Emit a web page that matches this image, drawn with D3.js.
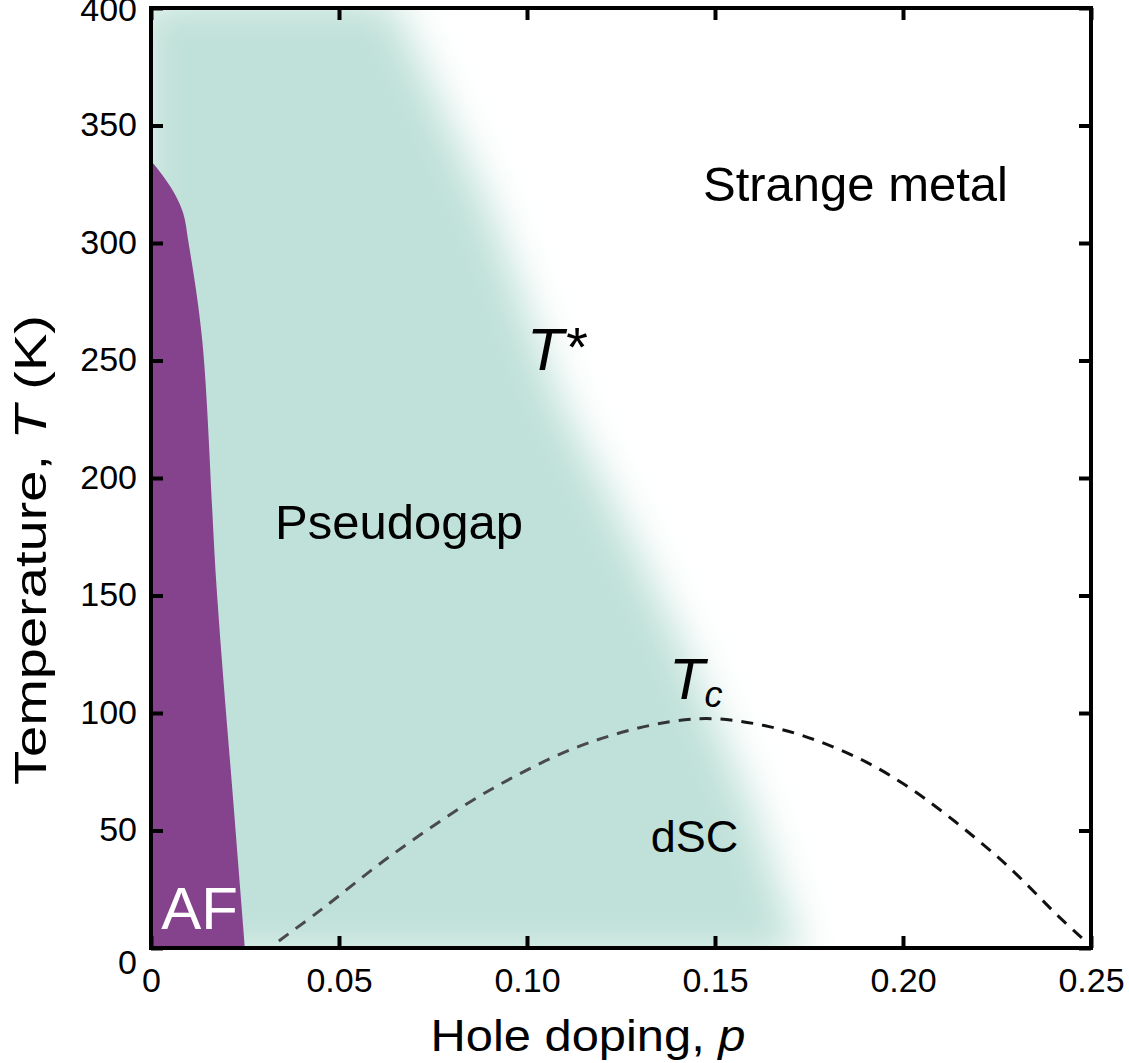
<!DOCTYPE html>
<html>
<head>
<meta charset="utf-8">
<script src="https://cdn.jsdelivr.net/npm/d3@7"></script>
<style>
  body { margin: 0; background: #fff; }
  text { font-family: "Liberation Sans", Arial, sans-serif; fill: #000; }
</style>
</head>
<body>
<div id="chart"></div>
<script>
// phase diagram data
var xTicks = [0, 0.05, 0.10, 0.15, 0.20, 0.25];
var xTickLabels = ["0", "0.05", "0.10", "0.15", "0.20", "0.25"];
var yTicks = [0, 50, 100, 150, 200, 250, 300, 350, 400];

// antiferromagnet boundary
var afP = [0, 0.0025, 0.0059, 0.0085, 0.0100, 0.0136, 0.0175, 0.0220, 0.0250];
var afT = [335, 330, 322, 313, 300, 259, 152, 60, 0];

// pseudogap T* crossover (middle of the fade)
var tStarP = [0.0635, 0.065, 0.090, 0.109, 0.126, 0.142, 0.160, 0.1726, 0.1735];
var tStarT = [404, 400, 315, 233, 180, 127, 60, 0, -4];

// superconducting dome Tc
var domeP = [0.034, 0.045, 0.0644, 0.091, 0.1176, 0.145, 0.165, 0.183, 0.200, 0.225, 0.242, 0.2485];
var domeT = [3, 16, 40, 68, 88, 97.5, 94, 84.5, 70, 39, 12.5, 3];

var svgWidth = 1129;
var svgHeight = 1063;
var margin = {top: 8, right: 38, bottom: 115, left: 151};
var width = svgWidth - margin.left - margin.right;   // 940
var height = svgHeight - margin.top - margin.bottom; // 940

var svg = d3.select("#chart").append("svg")
    .attr("width", svgWidth).attr("height", svgHeight);

var defs = svg.append("defs");
defs.append("clipPath").attr("id", "plotClip")
    .append("rect").attr("width", width).attr("height", height);
var blur = defs.append("filter").attr("id", "soft")
    .attr("x", "-30%").attr("y", "-30%").attr("width", "160%").attr("height", "160%");
blur.append("feGaussianBlur").attr("stdDeviation", 21);

var grad = defs.append("linearGradient").attr("id", "domeStroke")
    .attr("gradientUnits", "userSpaceOnUse");

var chart = svg.append("g").attr("transform", `translate(${margin.left},${margin.top})`);

var xScale = d3.scaleLinear().domain([0, 0.25]).range([0, width]);
var yScale = d3.scaleLinear().domain([0, 400]).range([height, 0]);

grad.attr("x1", xScale(0.12)).attr("x2", xScale(0.16)).attr("y1", 0).attr("y2", 0);
grad.append("stop").attr("offset", 0).attr("stop-color", "#4a4a4a");
grad.append("stop").attr("offset", 1).attr("stop-color", "#111");

var line = d3.line().x(function (d) { return xScale(d[0]); }).y(function (d) { return yScale(d[1]); });

var plot = chart.append("g").attr("clip-path", "url(#plotClip)");

// pseudogap region: polygon bounded by T*, blurred
var pgPts = [[-0.003, -4], [-0.003, 404]];
tStarP.forEach(function (p, i) { pgPts.push([p, tStarT[i]]); });
plot.append("path")
    .attr("d", line(pgPts) + "Z")
    .attr("fill", "#c0e1d9")
    .attr("filter", "url(#soft)");

// AF region: smooth boundary, then close along the axes
var afPts = afP.map(function (p, i) { return [p, afT[i]]; });
var afEdge = line.curve(d3.curveCatmullRom)(afPts);
line.curve(d3.curveLinear);
plot.append("path")
    .attr("d", afEdge + "L" + xScale(0) + "," + yScale(0) + "Z")
    .attr("fill", "#85428d");

// Tc dome
var domePts = domeP.map(function (p, i) { return [p, domeT[i]]; });
plot.append("path")
    .attr("d", d3.line().x(function (d) { return xScale(d[0]); }).y(function (d) { return yScale(d[1]); })
        .curve(d3.curveCatmullRom)(domePts))
    .attr("fill", "none")
    .attr("stroke", "url(#domeStroke)")
    .attr("stroke-width", 3)
    .attr("stroke-dasharray", "12,9");

// axes: box with inward ticks
var tickLen = 12;
chart.append("g").attr("class", "x-axis")
    .attr("transform", `translate(0,${height})`)
    .call(d3.axisBottom(xScale).tickValues(xTicks).tickSizeInner(-tickLen).tickSizeOuter(0)
        .tickFormat(function (d, i) { return xTickLabels[i]; }).tickPadding(25));
chart.append("g").attr("class", "x-axis-top")
    .call(d3.axisTop(xScale).tickValues(xTicks).tickSizeInner(-tickLen).tickSizeOuter(0).tickFormat(""));
chart.append("g").attr("class", "y-axis")
    .call(d3.axisLeft(yScale).tickValues(yTicks).tickSizeInner(-tickLen).tickSizeOuter(0).tickPadding(14));
chart.append("g").attr("class", "y-axis-right")
    .attr("transform", `translate(${width},0)`)
    .call(d3.axisRight(yScale).tickValues(yTicks).tickSizeInner(-tickLen).tickSizeOuter(0).tickFormat(""));

chart.selectAll(".domain").remove();
chart.selectAll(".tick line").attr("stroke", "#000").attr("stroke-width", 4);
chart.selectAll(".tick text").attr("font-size", 34).attr("font-family", "\"Liberation Sans\", Arial, sans-serif");
chart.select(".x-axis").selectAll(".tick text").attr("dy", "0.55em");
chart.select(".y-axis").selectAll(".tick text").attr("dy", function (d) {
    if (d === 0) return "0.75em";
    if (d === 400) return "0.38em";
    return "0.3em";
});

chart.append("rect")
    .attr("width", width).attr("height", height)
    .attr("fill", "none").attr("stroke", "#000").attr("stroke-width", 4);

// axis titles
var xTitle = chart.append("text")
    .attr("x", width / 2 - 33).attr("y", height + 103)
    .attr("text-anchor", "middle").attr("font-size", 44)
    .attr("textLength", 315).attr("lengthAdjust", "spacingAndGlyphs");
xTitle.append("tspan").text("Hole doping, ");
xTitle.append("tspan").attr("font-style", "italic").text("p");

var yTitle = chart.append("text")
    .attr("transform", `translate(-105,${height / 2 + 72})rotate(-90)`)
    .attr("text-anchor", "middle").attr("font-size", 45)
    .attr("textLength", 470).attr("lengthAdjust", "spacingAndGlyphs");
yTitle.append("tspan").text("Temperature, ");
yTitle.append("tspan").attr("font-style", "italic").text("T");
yTitle.append("tspan").text(" (K)");

// region labels
chart.append("text").attr("x", xScale(0.1468)).attr("y", yScale(318)).attr("font-size", 49).text("Strange metal");
chart.append("text").attr("x", xScale(0.0330)).attr("y", yScale(174)).attr("font-size", 49).text("Pseudogap");
chart.append("text").attr("x", xScale(0.1329)).attr("y", yScale(41)).attr("font-size", 45).text("dSC");
chart.append("text").attr("x", xScale(0.0027)).attr("y", yScale(8)).attr("font-size", 60)
    .style("fill", "#fff").text("AF");

var tStarLabel = chart.append("text").attr("x", xScale(0.1000)).attr("y", yScale(246)).attr("font-size", 60);
tStarLabel.append("tspan").attr("font-style", "italic").text("T");
tStarLabel.append("tspan").attr("font-style", "italic").attr("font-size", 56).attr("dy", -4).text("*");

var tcLabel = chart.append("text").attr("x", xScale(0.1378)).attr("y", yScale(106)).attr("font-size", 58);
tcLabel.append("tspan").attr("font-style", "italic").text("T");
tcLabel.append("tspan").attr("font-style", "italic").attr("font-size", 36).attr("dy", 8).text("c");
</script>
</body>
</html>
